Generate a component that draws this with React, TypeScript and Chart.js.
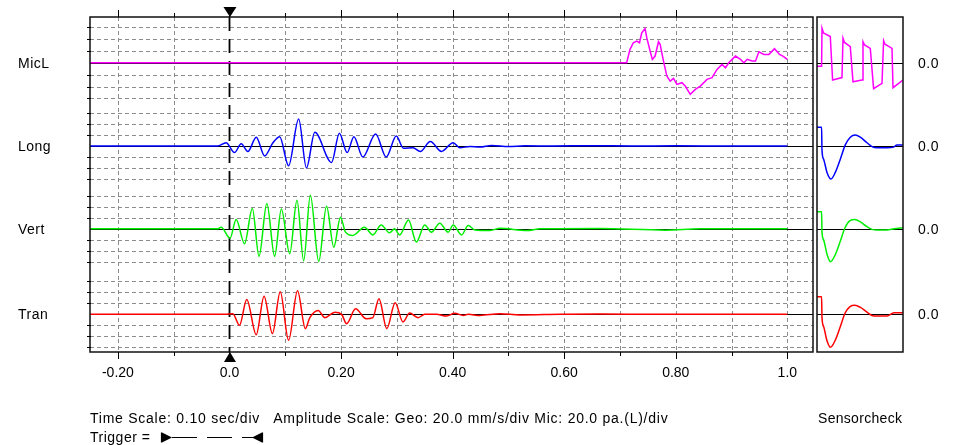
import React, { useEffect, useRef } from "react";
import { Chart, registerables } from "chart.js";
Chart.register(...registerables);

// ---------- data ----------
const CHANNELS = ["MicL", "Long", "Vert", "Tran"];
const CHANNEL_COLORS = ["#ff00ff", "#0000ff", "#00ee00", "#ff0000"];
const X_TICKS = [-0.2, -0.1, 0, 0.1, 0.2, 0.3, 0.4, 0.5, 0.6, 0.7, 0.8, 0.9, 1.0];
const X_TICK_LABELS = ["-0.20", "", "0.0", "", "0.20", "", "0.40", "", "0.60", "", "0.80", "", "1.0"];
const ZERO_LABELS = ["0.0", "0.0", "0.0", "0.0"];

// [time (s), amplitude (div)]
const MICL: [number, number][] = [
  [-0.25, 0], [0.712, 0], [0.718, 1.12], [0.724, 1.68], [0.73, 1.82], [0.735, 1.68], [0.739, 2.52],
  [0.745, 2.88], [0.748, 2.1], [0.754, 0.98], [0.758, 0.28], [0.763, 0.56], [0.769, 1.76], [0.772, 1.54],
  [0.778, 0.14], [0.784, -1.12], [0.79, -1.54], [0.796, -1.32], [0.802, -1.82], [0.811, -1.68],
  [0.817, -1.96], [0.826, -2.66], [0.835, -2.24], [0.844, -1.96], [0.856, -1.4], [0.865, -1.26],
  [0.874, -0.56], [0.883, -0.14], [0.889, -0.42], [0.895, 0], [0.901, 0.28], [0.907, 0.56],
  [0.916, 0.28], [0.922, 0], [0.928, 0.28], [0.937, 0.14], [0.943, 0.14], [0.949, 0.92],
  [0.958, 0.7], [0.967, 0.7], [0.977, 1.18], [0.986, 0.7], [0.992, 0.56], [1.0, 0.28],
];
const LONG: [number, number][] = [
  [-0.25, 0], [-0.0215, 0], [-0.006, 0.3], [0.009, -0.6], [0.021, 0.2], [0.033, -0.5], [0.048, 0.8],
  [0.063, -0.9], [0.078, 0.3], [0.09, 0.85], [0.106, -1.8], [0.124, 2.45], [0.138, -2.0], [0.153, 1.25],
  [0.183, -1.5], [0.197, 1.15], [0.211, -0.6], [0.223, 0.85], [0.239, -1.0], [0.262, 1.1], [0.281, -1.0],
  [0.299, 0.9], [0.312, -0.2], [0.329, -0.15], [0.342, -0.5], [0.36, 0.4], [0.38, -0.5], [0.401, 0.3],
  [0.413, -0.15], [0.431, -0.05], [0.449, -0.1], [0.47, 0.05], [0.5, -0.05], [0.53, 0.02], [0.58, 0],
  [0.65, 0.03], [0.72, 0], [0.8, 0.02], [0.9, 0], [1.0, 0],
];
const VERT: [number, number][] = [
  [-0.25, 0], [-0.0215, 0], [-0.015, 0.15], [0.001, -0.85], [0.012, 0.85], [0.027, -1.36], [0.041, 1.85],
  [0.053, -2.5], [0.067, 2.3], [0.081, -2.5], [0.093, 1.8], [0.108, -2.27], [0.121, 2.6], [0.133, -2.9],
  [0.145, 3.05], [0.16, -2.97], [0.174, 2.05], [0.187, -1.67], [0.199, 1.06], [0.208, -0.3], [0.221, -0.6],
  [0.242, 0.15], [0.257, -0.55], [0.272, 0.36], [0.287, -0.36], [0.296, 0], [0.305, -0.55], [0.321, 0.8],
  [0.335, -1.2], [0.35, 0.36], [0.362, -0.3], [0.377, 0.5], [0.392, -0.3], [0.401, 0.36], [0.416, -0.55],
  [0.428, 0.3], [0.44, -0.1], [0.467, -0.15], [0.485, 0.05], [0.533, -0.15], [0.557, 0], [0.664, 0.03],
  [0.781, -0.12], [0.844, 0], [1.0, 0],
];
const TRAN: [number, number][] = [
  [-0.25, 0], [-0.009, 0], [0.006, 0.05], [0.018, -1.0], [0.031, 1.35], [0.048, -1.85], [0.062, 1.65],
  [0.077, -1.75], [0.091, 2.05], [0.106, -2.36], [0.122, 2.15], [0.136, -1.3], [0.144, -0.3], [0.159, 0.36],
  [0.171, -0.3], [0.189, 0.2], [0.201, 0], [0.21, -0.85], [0.226, 0.5], [0.245, -0.4], [0.257, -0.3],
  [0.268, 1.42], [0.282, -1.3], [0.297, 1.05], [0.311, -0.7], [0.323, 0.12], [0.338, -0.3], [0.35, 0],
  [0.371, 0], [0.389, -0.15], [0.404, 0.1], [0.419, -0.1], [0.428, 0], [0.449, -0.1], [0.485, 0.05],
  [0.521, -0.05], [0.592, 0], [0.664, 0.03], [0.772, 0], [1.0, 0],
];

// sensorcheck: [sample, amplitude (div)]
const SENSOR_MICL: [number, number][] = [
  [0, -0.3], [4.6, -0.3], [5, 2.9], [6.5, 2.5], [13.3, 2.2], [15.6, -1.46], [25, -1.25], [26, 2.06],
  [27.5, 1.7], [33.3, 1.34], [36, -1.6], [45, -1.46], [46, 1.76], [47.5, 1.5], [53.3, 1.2], [56.6, -2.18],
  [65, -1.74], [66.6, 1.85], [68, 1.55], [75, 1.2], [76, -2.1], [86, -1.46],
];
const SENSOR_LONG: [number, number][] = [
  [0, 1.7], [4.6, 1.7], [5, -0.4], [6.6, -1.2], [10, -2.4], [14, -3.0], [18.3, -2.4], [23.3, -1.2],
  [28.3, 0.1], [33.3, 0.8], [38.3, 1.0], [43.3, 0.8], [50, 0.3], [55, -0.05], [60, -0.15], [70, -0.15],
  [76.6, -0.1], [80, 0.1], [86, 0.1],
];
const SENSOR_VERT: [number, number][] = [
  [0, 1.55], [4.6, 1.55], [5, -0.3], [6.6, -1.0], [10, -2.3], [13.5, -3.0], [18, -2.4], [23, -1.2],
  [28, 0.1], [33, 0.75], [38, 0.85], [43, 0.65], [50, 0.2], [55, -0.05], [60, -0.1], [70, -0.1],
  [77, 0], [86, 0.1],
];
const SENSOR_TRAN: [number, number][] = [
  [0, 1.6], [4.6, 1.6], [5, -0.3], [6.6, -1.1], [10, -2.4], [13.5, -3.0], [18, -2.4], [23, -1.2],
  [28, 0.1], [33, 0.7], [38, 0.82], [43, 0.65], [50, 0.2], [55, -0.1], [60, -0.15], [70, -0.15],
  [77, 0.15], [86, 0.15],
];

const MAIN_SERIES = [MICL, LONG, VERT, TRAN];
const SENSOR_SERIES = [SENSOR_MICL, SENSOR_LONG, SENSOR_VERT, SENSOR_TRAN];

// ---------- layout (not data) ----------
const BASE = [4.155, 11.727, 19.255, 27.027]; // channel baselines, in y units below top
const DIV = [1.082, 1, 1, 1]; // size of one amplitude division per channel
const Y_MIN = -30.45;
const FONT = '"Liberation Sans", Arial, sans-serif';

const toPoints = (s: [number, number][], i: number) =>
  s.map(([x, a]) => ({ x, y: -BASE[i] + a * DIV[i] }));

const mainPlugin = {
  id: "seismo",
  beforeDatasetsDraw(chart: any) {
    const { ctx, chartArea, scales } = chart;
    const { left, right, top, bottom } = chartArea;
    const x = scales.x, y = scales.y;
    ctx.save();
    ctx.lineWidth = 1;
    ctx.strokeStyle = "#8c8c8c";
    ctx.setLineDash([4, 3]);
    for (let i = 0; i < 4; i++) {
      for (const k of [-3, -2, -1, 1, 2, 3]) {
        const py = Math.round(y.getPixelForValue(-BASE[i] + k * DIV[i])) + 0.5;
        ctx.beginPath(); ctx.moveTo(left, py); ctx.lineTo(right, py); ctx.stroke();
      }
    }
    for (const t of X_TICKS) {
      if (t === 0) continue;
      const px = Math.round(x.getPixelForValue(t)) + 0.5;
      ctx.beginPath(); ctx.moveTo(px, top); ctx.lineTo(px, bottom); ctx.stroke();
    }
    ctx.setLineDash([]);
    ctx.strokeStyle = "#000";
    for (let i = 0; i < 4; i++) {
      const py = Math.round(y.getPixelForValue(-BASE[i])) + 0.5;
      ctx.beginPath(); ctx.moveTo(left, py); ctx.lineTo(right, py); ctx.stroke();
    }
    // trigger line
    const tx = Math.round(x.getPixelForValue(0)) + 0.5;
    ctx.lineWidth = 1.8;
    ctx.setLineDash([14, 8]);
    ctx.beginPath(); ctx.moveTo(tx, top); ctx.lineTo(tx, bottom); ctx.stroke();
    ctx.restore();
  },
  afterDatasetsDraw(chart: any) {
    const { ctx, chartArea, scales } = chart;
    const { left, right, top, bottom } = chartArea;
    const x = scales.x, y = scales.y;
    ctx.save();
    ctx.strokeStyle = "#111";
    ctx.lineWidth = 1.5;
    ctx.strokeRect(left, top, right - left, bottom - top);
    ctx.lineWidth = 1;
    ctx.strokeStyle = "#000";
    X_TICKS.forEach((t, i) => {
      const px = Math.round(x.getPixelForValue(t)) + 0.5;
      const len = X_TICK_LABELS[i] ? 7 : 4;
      ctx.beginPath();
      ctx.moveTo(px, top); ctx.lineTo(px, top - len);
      ctx.moveTo(px, bottom); ctx.lineTo(px, bottom + len);
      ctx.stroke();
    });
    for (let i = 0; i < 4; i++) {
      for (const k of [-3, -2, -1, 1, 2, 3]) {
        const py = Math.round(y.getPixelForValue(-BASE[i] + k * DIV[i])) + 0.5;
        ctx.beginPath(); ctx.moveTo(left - 3, py); ctx.lineTo(left + 1, py); ctx.stroke();
      }
    }
    // trigger markers
    const tx = x.getPixelForValue(0) + 0.5;
    ctx.fillStyle = "#000";
    ctx.beginPath();
    ctx.moveTo(tx - 6.5, top - 10); ctx.lineTo(tx + 6.5, top - 10); ctx.lineTo(tx, top); ctx.closePath(); ctx.fill();
    ctx.beginPath();
    ctx.moveTo(tx - 6, bottom + 10); ctx.lineTo(tx + 6, bottom + 10); ctx.lineTo(tx, bottom); ctx.closePath(); ctx.fill();
    // trigger legend symbol
    const ly = 437.5;
    ctx.lineWidth = 1.2;
    ctx.beginPath();
    ctx.moveTo(162, ly - 5); ctx.lineTo(172, ly); ctx.lineTo(162, ly + 5); ctx.closePath(); ctx.fill();
    ctx.beginPath();
    ctx.moveTo(262, ly - 5); ctx.lineTo(252, ly); ctx.lineTo(262, ly + 5); ctx.closePath(); ctx.fill();
    ctx.beginPath();
    ctx.moveTo(161.5, ly - 5); ctx.lineTo(161.5, ly + 5);
    ctx.moveTo(262.5, ly - 5); ctx.lineTo(262.5, ly + 5);
    ctx.moveTo(172, ly); ctx.lineTo(197, ly);
    ctx.moveTo(207, ly); ctx.lineTo(232, ly);
    ctx.moveTo(242, ly); ctx.lineTo(253, ly);
    ctx.stroke();
    ctx.restore();
  },
};

const sensorPlugin = {
  id: "sensor",
  beforeDatasetsDraw(chart: any) {
    const { ctx, chartArea, scales } = chart;
    const { left, right } = chartArea;
    ctx.save();
    ctx.strokeStyle = "#000";
    ctx.lineWidth = 1;
    for (let i = 0; i < 4; i++) {
      const py = Math.round(scales.y.getPixelForValue(-BASE[i])) + 0.5;
      ctx.beginPath(); ctx.moveTo(left, py); ctx.lineTo(right, py); ctx.stroke();
    }
    ctx.restore();
  },
  afterDatasetsDraw(chart: any) {
    const { ctx, chartArea } = chart;
    const { left, right, top, bottom } = chartArea;
    ctx.save();
    ctx.strokeStyle = "#111";
    ctx.lineWidth = 1.5;
    ctx.strokeRect(left, top, right - left, bottom - top);
    ctx.restore();
  },
};

const makeDatasets = (series: [number, number][][]) =>
  series.map((s, i) => ({
    data: toPoints(s, i),
    borderColor: CHANNEL_COLORS[i],
    borderWidth: 1.5,
    pointRadius: 0,
    fill: false,
    ...(i === 0 ? { tension: 0 } : { cubicInterpolationMode: "monotone" as const }),
  }));

export default function App() {
  const mainRef = useRef<HTMLCanvasElement>(null);
  const sensRef = useRef<HTMLCanvasElement>(null);

  useEffect(() => {
    const main = new Chart(mainRef.current!, {
      type: "line",
      data: { datasets: makeDatasets(MAIN_SERIES) as any },
      options: {
        animation: false,
        responsive: false,
        events: [],
        layout: { padding: { left: 90, top: 17, right: 141, bottom: 63 } },
        plugins: { legend: { display: false }, tooltip: { enabled: false } },
        scales: {
          x: {
            type: "linear",
            min: -0.25,
            max: 1.046,
            position: "bottom",
            afterBuildTicks: (s: any) => { s.ticks = X_TICKS.map((v) => ({ value: v })); },
            afterFit: (s: any) => { s.height = 30; },
            grid: { display: false, drawTicks: false },
            border: { display: false },
            ticks: {
              padding: 13,
              color: "#000",
              autoSkip: false,
              maxRotation: 0,
              font: { family: FONT, size: 14 },
              callback: (_v: any, i: number) => X_TICK_LABELS[i],
            },
          },
          y: { display: false, min: Y_MIN, max: 0 },
        },
      },
      plugins: [mainPlugin],
    });
    const sens = new Chart(sensRef.current!, {
      type: "line",
      data: { datasets: makeDatasets(SENSOR_SERIES) as any },
      options: {
        animation: false,
        responsive: false,
        events: [],
        layout: { padding: { left: 7, top: 17, right: 7, bottom: 93 } },
        plugins: { legend: { display: false }, tooltip: { enabled: false } },
        scales: {
          x: { type: "linear", display: false, min: 0, max: 86 },
          y: { display: false, min: Y_MIN, max: 0 },
        },
      },
      plugins: [sensorPlugin],
    });
    return () => { main.destroy(); sens.destroy(); };
  }, []);

  const baseY = [63, 146, 229, 314];
  const textStyle: React.CSSProperties = {
    position: "absolute",
    fontFamily: FONT,
    fontSize: 14,
    lineHeight: "14px",
    letterSpacing: "0.5px",
    color: "#000",
    whiteSpace: "pre",
  };

  return (
    <div style={{ position: "absolute", left: 0, top: 0, width: 954, height: 445, background: "#fff", overflow: "hidden" }}>
      <canvas ref={mainRef} width={954} height={445} style={{ position: "absolute", left: 0, top: 0, width: 954, height: 445 }} />
      <canvas ref={sensRef} width={100} height={445} style={{ position: "absolute", left: 810, top: 0, width: 100, height: 445 }} />
      {CHANNELS.map((c, i) => (
        <div key={c} style={{ ...textStyle, left: 18, top: baseY[i] - 7 }}>{c}</div>
      ))}
      {ZERO_LABELS.map((z, i) => (
        <div key={"z" + i} style={{ ...textStyle, left: 918, top: baseY[i] - 7 }}>{z}</div>
      ))}
      <div style={{ ...textStyle, left: 90, top: 411, letterSpacing: "0.75px" }}>
        {"Time Scale: 0.10 sec/div   Amplitude Scale: Geo: 20.0 mm/s/div Mic: 20.0 pa.(L)/div"}
      </div>
      <div style={{ ...textStyle, left: 818, top: 411, letterSpacing: "0.3px" }}>Sensorcheck</div>
      <div style={{ ...textStyle, left: 90, top: 430 }}>Trigger =</div>
    </div>
  );
}
